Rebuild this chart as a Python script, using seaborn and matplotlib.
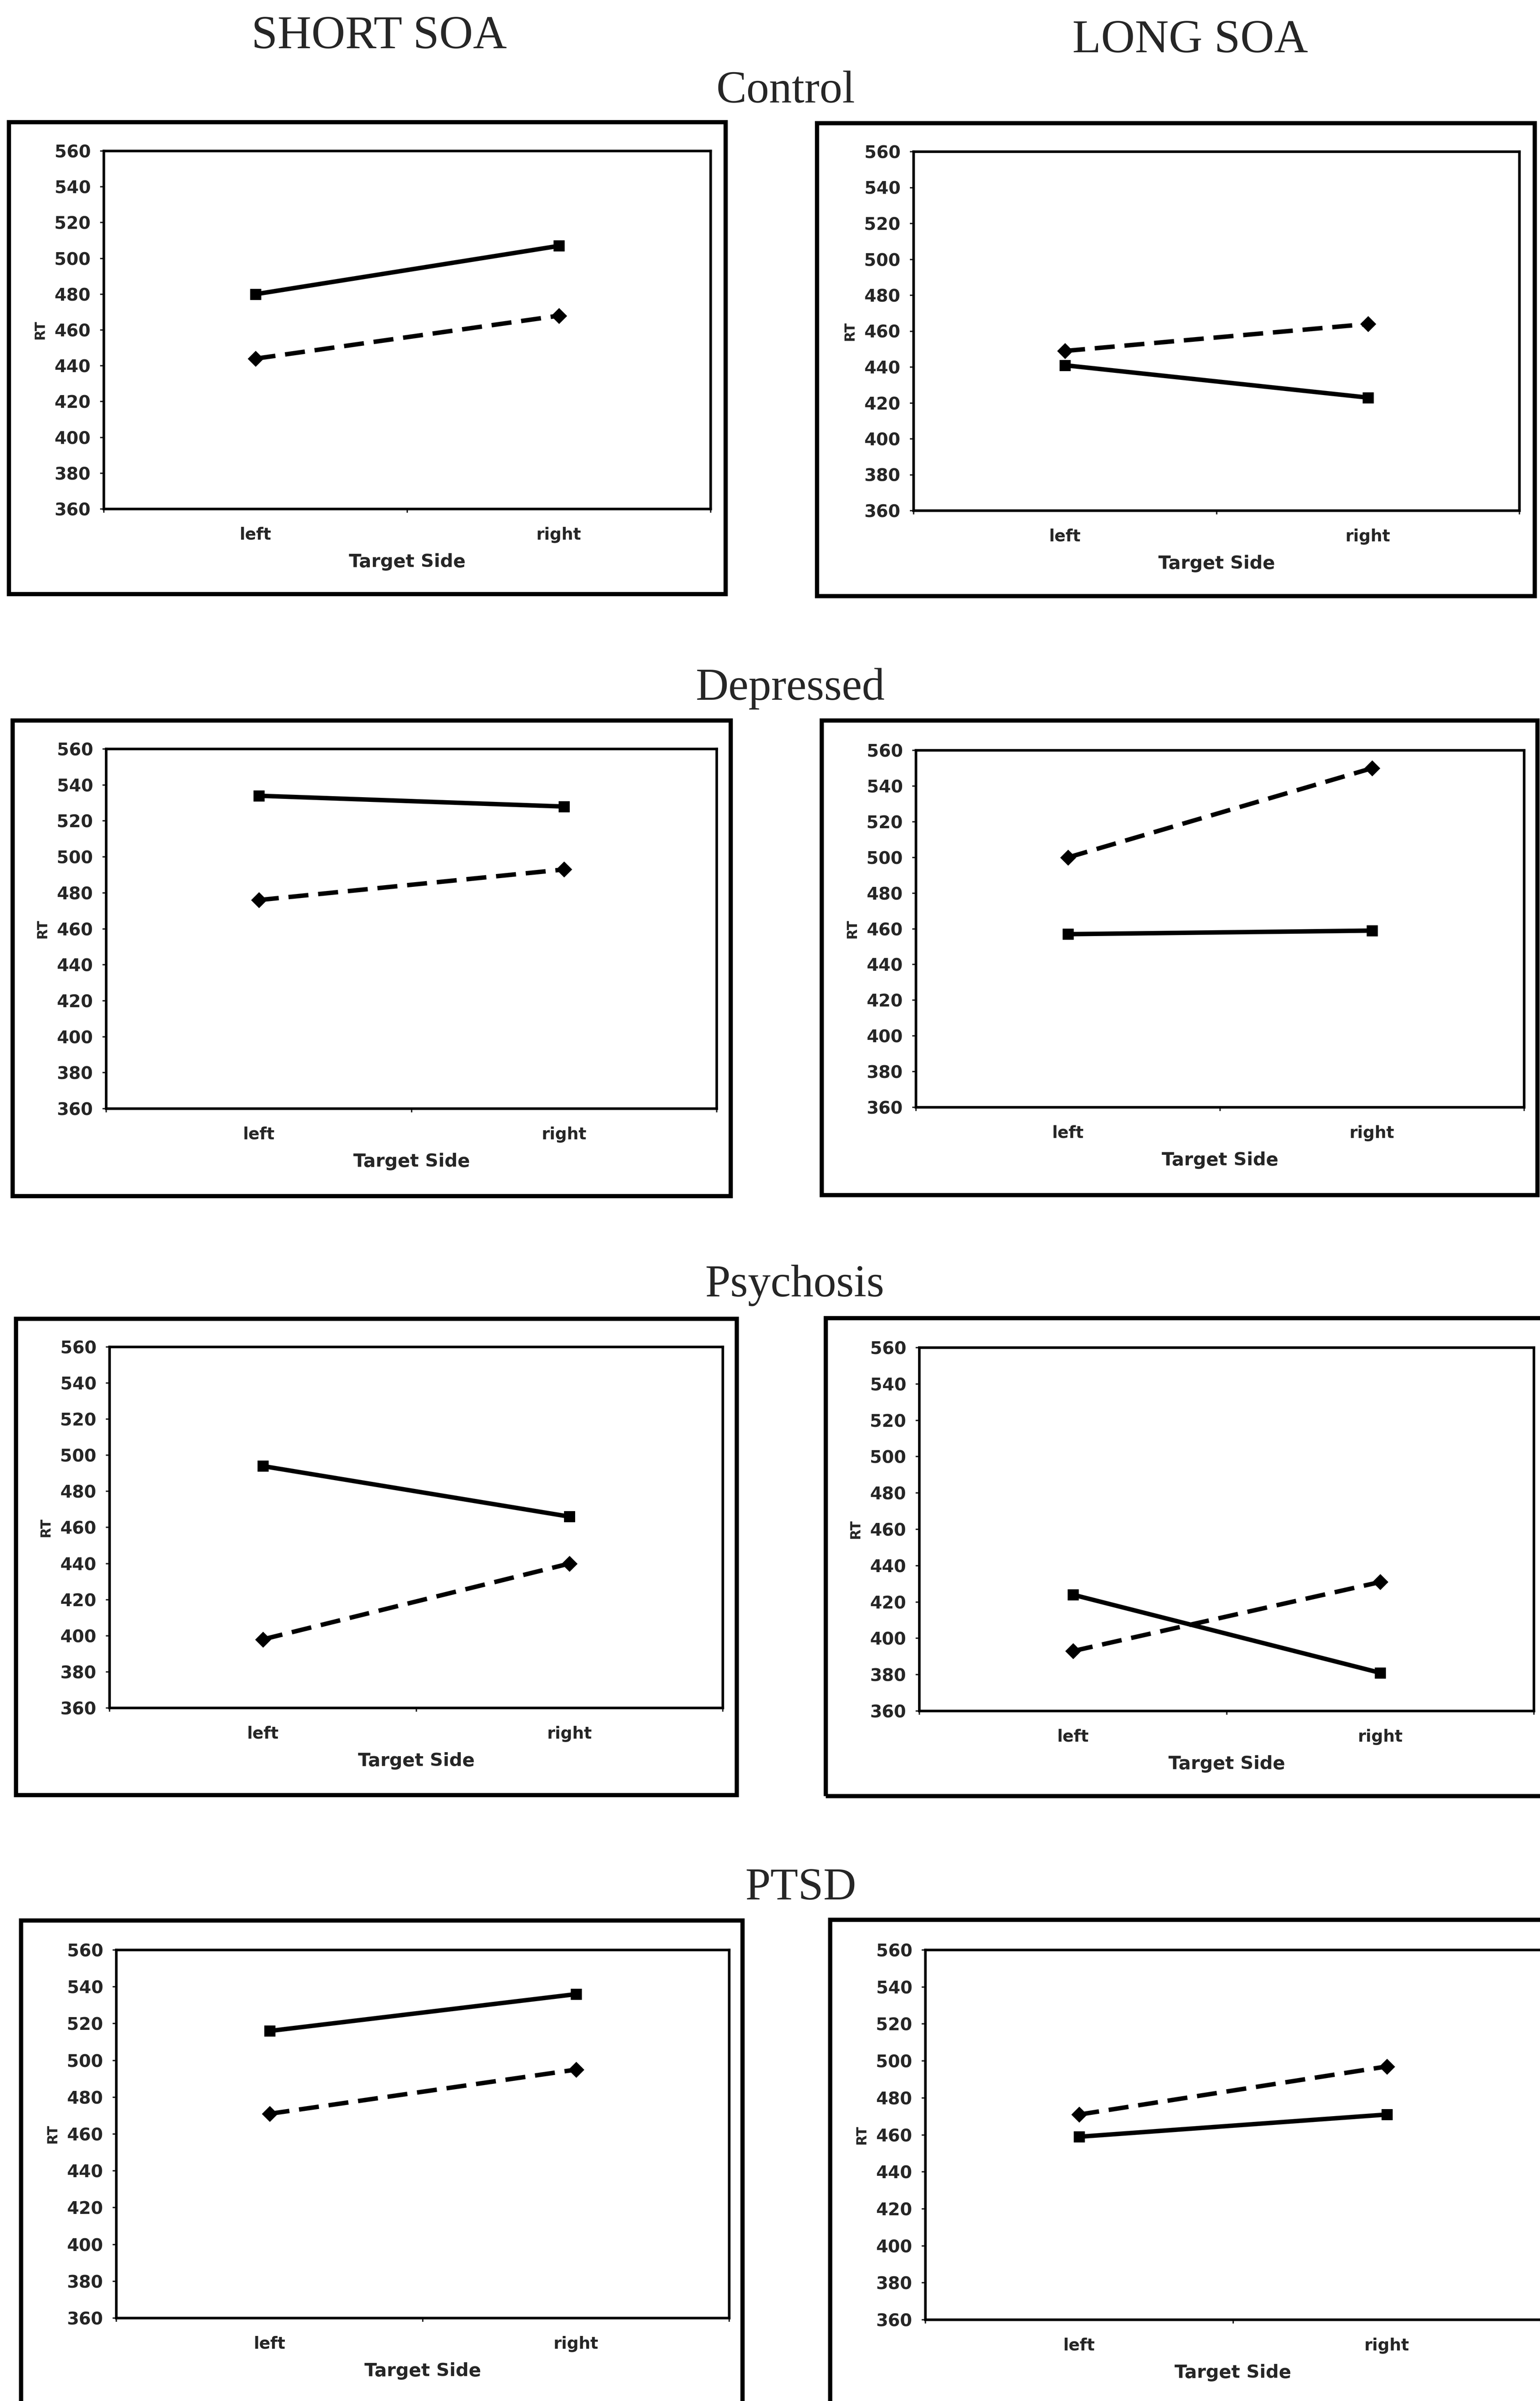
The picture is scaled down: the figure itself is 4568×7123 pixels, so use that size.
import matplotlib
matplotlib.use("Agg")
import matplotlib.pyplot as plt
from matplotlib.patches import Rectangle
import pandas as pd
import seaborn as sns

# ---------------- DATA ----------------
sides = ["left", "right"]
groups = ["Control", "Depressed", "Psychosis", "PTSD"]
soa_labels = ["SHORT SOA", "LONG SOA"]

# solid line with square markers
solid_short = {"Control": [480, 507], "Depressed": [534, 528],
               "Psychosis": [494, 466], "PTSD": [516, 536]}
solid_long = {"Control": [441, 423], "Depressed": [457, 459],
              "Psychosis": [424, 381], "PTSD": [459, 471]}
# dashed line with diamond markers
dashed_short = {"Control": [444, 468], "Depressed": [476, 493],
                "Psychosis": [398, 440], "PTSD": [471, 495]}
dashed_long = {"Control": [449, 464], "Depressed": [500, 550],
               "Psychosis": [393, 431], "PTSD": [471, 497]}

y_ticks = list(range(360, 561, 20))

# ---------------- LAYOUT (pixels, from top-left) ----------------
W, H = 4568, 7123
plot_boxes = {
    ("Control", 0): (308, 2108, 448, 1510),
    ("Control", 1): (2710, 4507, 450, 1515),
    ("Depressed", 0): (315, 2126, 2222, 3289),
    ("Depressed", 1): (2717, 4521, 2226, 3285),
    ("Psychosis", 0): (325, 2144, 3996, 5067),
    ("Psychosis", 1): (2727, 4550, 3998, 5076),
    ("PTSD", 0): (345, 2163, 5785, 6877),
    ("PTSD", 1): (2745, 4570, 5785, 6882),
}
outer_boxes = {
    ("Control", 0): (26, 2152, 362, 1762),
    ("Control", 1): (2423, 4552, 365, 1768),
    ("Depressed", 0): (37, 2167, 2137, 3548),
    ("Depressed", 1): (2437, 4560, 2137, 3545),
    ("Psychosis", 0): (47, 2185, 3912, 5325),
    ("Psychosis", 1): (2449, 4640, 3910, 5328),
    ("PTSD", 0): (62, 2202, 5697, 7250),
    ("PTSD", 1): (2462, 4640, 5695, 7250),
}
group_title_pos = {"Control": (2330, 304), "Depressed": (2344, 2076),
                   "Psychosis": (2357, 3846), "PTSD": (2375, 5635)}
soa_title_pos = [(1125, 143), (3530, 155)]


def fig_rect(x0, x1, y0, y1):
    return [x0 / W, 1 - y1 / H, (x1 - x0) / W, (y1 - y0) / H]


sns.set_style("ticks")
plt.rcParams["font.family"] = ["DejaVu Sans"]

fig = plt.figure(figsize=(W / 100, H / 100), dpi=100)

serif = ["Liberation Serif", "DejaVu Serif"]
for (x, y), label in zip(soa_title_pos, soa_labels):
    fig.text(x / W, 1 - y / H, label, ha="center", va="baseline",
             fontsize=100, family=serif)

for g in groups:
    x, y = group_title_pos[g]
    fig.text(x / W, 1 - y / H, g, ha="center", va="baseline",
             fontsize=97, family=serif)

    for col in range(2):
        ox0, ox1, oy0, oy1 = outer_boxes[(g, col)]
        fig.add_artist(Rectangle((ox0 / W, 1 - oy1 / H), (ox1 - ox0) / W,
                                 (oy1 - oy0) / H, transform=fig.transFigure,
                                 fill=False, lw=9, ec="black"))

        solid = solid_short[g] if col == 0 else solid_long[g]
        dashed = dashed_short[g] if col == 0 else dashed_long[g]
        df = pd.DataFrame({
            "Target Side": sides * 2,
            "RT": solid + dashed,
            "series": ["solid"] * 2 + ["dashed"] * 2,
        })

        ax = fig.add_axes(fig_rect(*plot_boxes[(g, col)]))
        sns.lineplot(data=df, x="Target Side", y="RT", style="series",
                     markers={"solid": "s", "dashed": "D"},
                     dashes={"solid": "", "dashed": (4.5, 2.2)},
                     color="black", lw=9.5, markersize=23,
                     markeredgecolor="black", legend=False, ax=ax)

        ax.set_xlim(-0.5, 1.5)
        ax.set_ylim(360, 560)
        ax.set_yticks(y_ticks)
        ax.set_xticks([0, 1])
        ax.set_xticklabels(sides)
        ax.set_xticks([-0.5, 0.5, 1.5], minor=True)

        for sp in ax.spines.values():
            sp.set_visible(True)
            sp.set_linewidth(5.5)
            sp.set_color("black")

        ax.tick_params(axis="y", direction="out", length=8, width=3,
                       pad=20, labelsize=37)
        ax.tick_params(axis="x", which="major", length=0, pad=38,
                       labelsize=35)
        ax.tick_params(axis="x", which="minor", direction="out", length=8,
                       width=3)
        for lab in ax.get_xticklabels() + ax.get_yticklabels():
            lab.set_fontweight("bold")

        ax.set_xlabel("Target Side", fontsize=39, fontweight="bold",
                      labelpad=22)
        ax.set_ylabel("RT", fontsize=29, fontweight="bold", labelpad=16)

fig.savefig("out.png", dpi=100, facecolor="white")
